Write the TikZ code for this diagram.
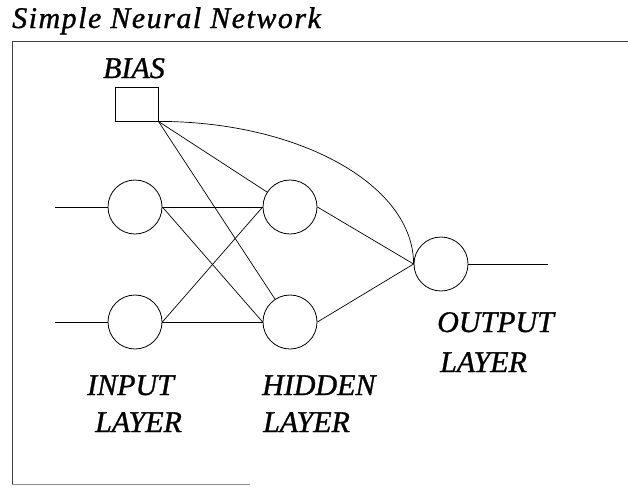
\documentclass[tikz,border=0pt]{standalone}
\usepackage{fontspec}
\setmainfont{Liberation Serif}
\begin{document}
\begin{tikzpicture}[x=1pt,y=-1pt,
  neuron/.style={circle,draw,minimum size=54pt,inner sep=0pt,line width=0.8pt},
  biasbox/.style={rectangle,draw,minimum width=43pt,minimum height=34pt,inner sep=0pt,line width=0.8pt},
  link/.style={line width=0.7pt},
  frameline/.style={line width=0.7pt,black!75},
  lbl/.style={font=\fontsize{30}{36}\selectfont\itshape\addfontfeature{FakeBold=1},inner sep=0pt,anchor=base west},
  titletext/.style={font=\fontsize{30}{34}\selectfont\itshape\addfontfeature{LetterSpace=5,FakeBold=1},inner sep=0pt,anchor=base west}]
\useasboundingbox (0,0) rectangle (628,491);

% title and open frame
\node[titletext] (title) at (12,28) {Simple Neural Network};
\draw[frameline] (628,41) -- (12,41) -- (12,484);
\draw[line width=0.6pt,black!45] (12,484) -- (250,484);

% neurons
\node[neuron] (in1) at (135,207) {};
\node[neuron] (in2) at (135,322) {};
\node[neuron] (h1) at (290,207) {};
\node[neuron] (h2) at (290,322) {};
\node[neuron] (out) at (441,264) {};
\node[biasbox] (bias) at (136.5,104) {};

% labels
\node[lbl,anchor=base] (biaslbl) at (134,78) {BIAS};
\node[lbl] (inlbl1) at (87,395) {INPUT};
\node[lbl] (inlbl2) at (95,432) {LAYER};
\node[lbl] (hidlbl1) at (262,395) {HIDDEN};
\node[lbl] (hidlbl2) at (263,432) {LAYER};
\node[lbl] (outlbl1) at (437,332) {OUTPUT};
\node[lbl] (outlbl2) at (440,372) {LAYER};

% free ends of the input and output lines
\coordinate (x1) at (55,207);
\coordinate (x2) at (55,322);
\coordinate (y) at (548,264);

% connections
\draw[link] (x1) -- (in1.west);
\draw[link] (x2) -- (in2.west);
\draw[link] (in1.east) -- (h1.west);
\draw[link] (in1.east) -- (h2.west);
\draw[link] (in2.east) -- (h1.west);
\draw[link] (in2.east) -- (h2.west);
\draw[link] (bias.south east) -- (h1);
\draw[link] (bias.south east) -- (h2);
\draw[link] (h1.east) -- (out.west);
\draw[link] (h2.east) -- (out.west);
\draw[link] (bias.south east) .. controls +(141,0) and +(0,-79) .. (out.west);
\draw[link] (out.east) -- (y);
\end{tikzpicture}
\end{document}
